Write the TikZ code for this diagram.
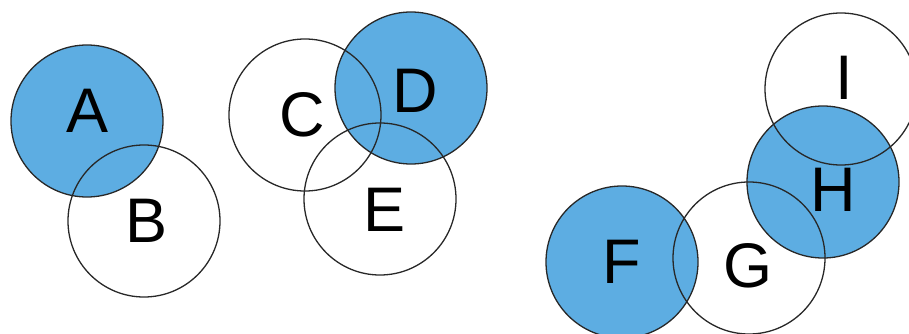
\documentclass[tikz,border=0pt]{standalone}
\usepackage{fontspec}
\setmainfont{Liberation Sans}
\definecolor{setblue}{RGB}{93,173,226}
\definecolor{edge}{RGB}{40,40,40}
\begin{document}
\begin{tikzpicture}[x=1pt,y=-1pt,
  setdisk/.style={circle,minimum size=152pt,inner sep=0pt,draw=none},
  shaded/.style={setdisk,fill=setblue},
  rim/.style={draw=edge,line width=1.3pt},
  letter/.style={inner sep=0pt,font=\fontsize{63}{63}\selectfont}]
\useasboundingbox (0,0) rectangle (909,334);
% disks
\node[shaded]  (cA) at (87,121) {};
\node[setdisk] (cB) at (144,221) {};
\node[setdisk] (cC) at (305,115) {};
\node[shaded]  (cD) at (411,88) {};
\node[setdisk] (cE) at (380,199) {};
\node[shaded]  (cF) at (622,262) {};
\node[setdisk] (cG) at (749,258) {};
\node[shaded]  (cH) at (823,182) {};
\node[setdisk] (cI) at (841,89) {};
% outlines
\foreach \c in {cA,cB,cC,cD,cE,cF,cG,cH,cI}
  \draw[rim] (\c.center) circle[radius=76pt];
% letters
\node[letter] (A) at (88,111) {A};
\node[letter] (B) at (147,221) {B};
\node[letter] (C) at (302,115) {C};
\node[letter] (D) at (415,91) {D};
\node[letter] (E) at (385,210) {E};
\node[letter] (F) at (622,262) {F};
\node[letter] (G) at (748,266) {G};
\node[letter] (H) at (833,190) {H};
\node[letter] (I) at (844,78) {I};
\end{tikzpicture}
\end{document}
